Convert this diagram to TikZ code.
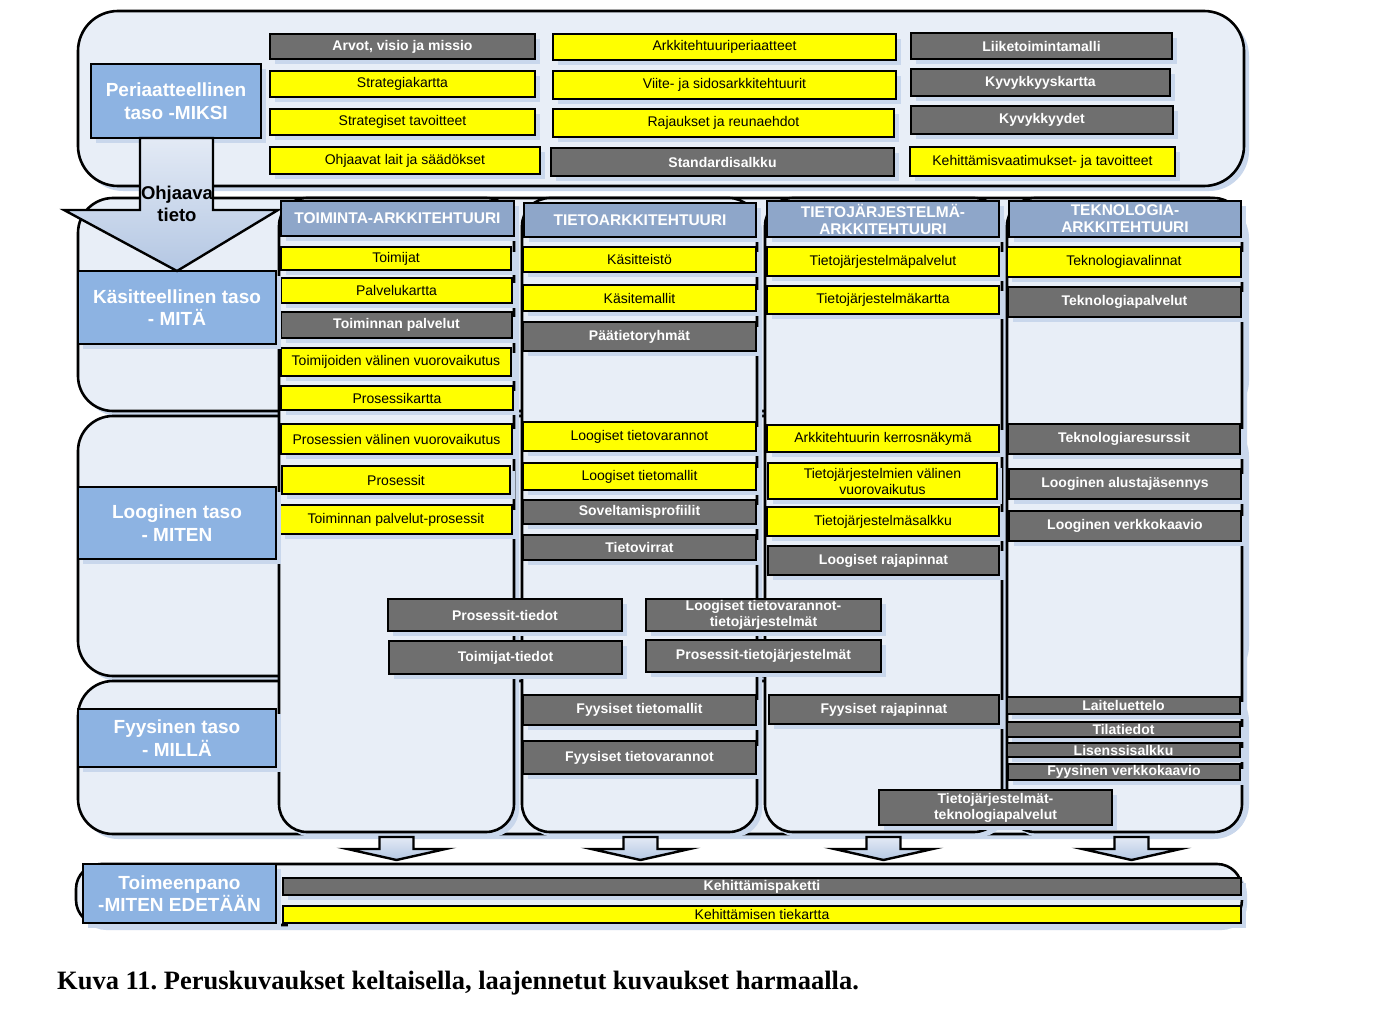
\documentclass[tikz,border=0pt]{standalone}
\usepackage{fontspec}
\setmainfont{Liberation Sans}
\newfontfamily\capfont{Liberation Serif}
\usetikzlibrary{shadows,calc}
\frenchspacing
\definecolor{contc}{HTML}{E8EEF7}
\definecolor{lvlc}{HTML}{8DB3E2}
\definecolor{hdrc}{HTML}{8EA6C9}
\definecolor{grayc}{HTML}{6F6F6F}
\definecolor{yelc}{HTML}{FFFF00}
\definecolor{shadc}{HTML}{C9D7EC}
\definecolor{arrtop}{HTML}{E3EAF5}
\definecolor{arrbot}{HTML}{B4C7E3}
\tikzset{
  basebox/.style={draw=black, line width=2.4pt, inner sep=0pt, outer sep=0pt, align=center,
    general shadow={fill=shadc, shadow xshift=5pt, shadow yshift=-5pt}},
  ybx/.style={basebox, fill=yelc, text=black, font=\fontsize{14}{16}\selectfont},
  gbx/.style={basebox, fill=grayc, text=white, font=\bfseries\fontsize{14}{16}\selectfont},
  hbx/.style={basebox, fill=hdrc, text=white, font=\bfseries\fontsize{15.5}{17}\selectfont},
  lbx/.style={basebox, fill=lvlc, text=white, font=\bfseries\fontsize{19}{22.5}\selectfont},
  cbx/.style={basebox, line width=2.6pt, fill=contc, rounded corners=#1},
  cbx/.default=30pt,
  bigarrow/.style={draw=black, line width=2.4pt, top color=arrtop, bottom color=arrbot},
  smallarrow/.style={draw=black, line width=2.4pt, top color=arrtop, bottom color=arrbot},
}
\newcommand\bx[7]{\node[#2, minimum width={(#5)-(#3)-2}, minimum height={(#6)-(#4)-2}] (#1) at ({((#3)+(#5))/2},{((#4)+(#6))/2}) {#7};}
\newcommand\darrow[2]{\draw[smallarrow] ($(#1.south)+(#2-17,5)$) -- ($(#1.south)+(#2-17,17)$) -- ($(#1.south)+(#2-49,17)$) -- ($(#1.south)+(#2,28)$) -- ($(#1.south)+(#2+49,17)$) -- ($(#1.south)+(#2+17,17)$) -- ($(#1.south)+(#2+17,5)$) -- cycle;}
\begin{document}
\begin{tikzpicture}[x=1pt,y=-1pt]
\useasboundingbox[fill=white] (0,0) rectangle (1374,1014);
% containers
\bx{top}{cbx=40pt}{77}{10}{1245}{187}{}
\bx{rowK}{cbx=35pt}{77}{197}{1245}{412}{}
\bx{rowL}{cbx=35pt}{77}{415}{1245}{677}{}
\bx{rowF}{cbx=35pt}{77}{680}{1245}{835}{}
\bx{bottom}{cbx=25pt}{75}{863}{1243}{926}{}
% columns
\bx{colA}{cbx=28pt}{278}{197}{515}{833}{}
\bx{colB}{cbx=28pt}{521}{197}{758}{833}{}
\bx{colC}{cbx=28pt}{764}{197}{1003}{833}{}
\bx{colD}{cbx=28pt}{1006}{197}{1243}{833}{}
% top level items
\bx{t1}{gbx}{269}{33}{536}{60}{Arvot, visio ja missio}
\bx{t2}{ybx}{269}{70}{536}{98}{Strategiakartta}
\bx{t3}{ybx}{269}{108}{536}{136}{Strategiset tavoitteet}
\bx{t4}{ybx}{269}{146}{541}{175}{Ohjaavat lait ja säädökset}
\bx{t5}{ybx}{552}{33}{897}{61}{Arkkitehtuuriperiaatteet}
\bx{t6}{ybx}{552}{70}{897}{100}{Viite- ja sidosarkkitehtuurit}
\bx{t7}{ybx}{552}{108}{895}{138}{Rajaukset ja reunaehdot}
\bx{t8}{gbx}{550}{147}{895}{177}{Standardisalkku}
\bx{t9}{gbx}{910}{32}{1173}{60}{Liiketoimintamalli}
\bx{t10}{gbx}{910}{68}{1171}{97}{Kyvykkyyskartta}
\bx{t11}{gbx}{910}{105}{1174}{135}{Kyvykkyydet}
\bx{t12}{ybx}{909}{146}{1176}{177}{Kehittämisvaatimukset- ja tavoitteet}
% headers
\bx{hA}{hbx}{280}{200}{515}{237}{TOIMINTA-ARKKITEHTUURI}
\bx{hB}{hbx}{523}{202}{757}{238}{TIETOARKKITEHTUURI}
\bx{hC}{hbx}{766}{200}{1000}{238}{TIETOJÄRJESTELMÄ-\\ARKKITEHTUURI}
\bx{hD}{hbx}{1008}{200}{1242}{238}{TEKNOLOGIA-\\ARKKITEHTUURI}
% column A
\bx{a1}{ybx}{280}{246}{512}{271}{Toimijat}
\bx{a2}{ybx}{280}{277}{513}{304}{Palvelukartta}
\bx{a3}{gbx}{280}{311}{513}{339}{Toiminnan palvelut}
\bx{a4}{ybx}{280}{347}{512}{377}{Toimijoiden välinen vuorovaikutus}
\bx{a5}{ybx}{280}{385}{514}{411}{Prosessikartta}
\bx{a6}{ybx}{280}{423}{513}{455}{Prosessien välinen vuorovaikutus}
\bx{a7}{ybx}{281}{465}{511}{495}{Prosessit}
\bx{a8}{ybx}{279}{504}{513}{535}{Toiminnan palvelut-prosessit}
% column B
\bx{b1}{ybx}{522}{246}{757}{273}{Käsitteistö}
\bx{b2}{ybx}{522}{284}{757}{312}{Käsitemallit}
\bx{b3}{gbx}{522}{321}{757}{352}{Päätietoryhmät}
\bx{b4}{ybx}{522}{421}{757}{452}{Loogiset tietovarannot}
\bx{b5}{ybx}{522}{462}{757}{491}{Loogiset tietomallit}
\bx{b6}{gbx}{522}{499}{757}{525}{Soveltamisprofiilit}
\bx{b7}{gbx}{522}{534}{757}{561}{Tietovirrat}
\bx{b8}{gbx}{522}{694}{757}{726}{Fyysiset tietomallit}
\bx{b9}{gbx}{522}{740}{757}{775}{Fyysiset tietovarannot}
% column C
\bx{c1}{ybx}{766}{246}{1000}{277}{Tietojärjestelmäpalvelut}
\bx{c2}{ybx}{766}{285}{1000}{315}{Tietojärjestelmäkartta}
\bx{c3}{ybx}{766}{424}{1000}{453}{Arkkitehtuurin kerrosnäkymä}
\bx{c4}{ybx}{767}{462}{998}{500}{Tietojärjestelmien välinen\\vuorovaikutus}
\bx{c5}{ybx}{766}{506}{1000}{537}{Tietojärjestelmäsalkku}
\bx{c6}{gbx}{767}{545}{1000}{576}{Loogiset rajapinnat}
\bx{c7}{gbx}{768}{694}{1000}{725}{Fyysiset rajapinnat}
% column D
\bx{d1}{ybx}{1006}{246}{1242}{278}{Teknologiavalinnat}
\bx{d2}{gbx}{1007}{286}{1242}{318}{Teknologiapalvelut}
\bx{d3}{gbx}{1007}{423}{1241}{455}{Teknologiaresurssit}
\bx{d4}{gbx}{1008}{468}{1242}{500}{Looginen alustajäsennys}
\bx{d5}{gbx}{1008}{510}{1242}{542}{Looginen verkkokaavio}
\bx{d6}{gbx}{1006}{696}{1241}{715}{Laiteluettelo}
\bx{d7}{gbx}{1006}{721}{1241}{738}{Tilatiedot}
\bx{d8}{gbx}{1006}{742}{1241}{758}{Lisenssisalkku}
\bx{d9}{gbx}{1007}{763}{1241}{781}{Fyysinen verkkokaavio}
% cross items
\bx{x1}{gbx}{387}{598}{623}{632}{Prosessit-tiedot}
\bx{x2}{gbx}{388}{640}{623}{675}{Toimijat-tiedot}
\bx{x3}{gbx}{645}{598}{882}{632}{Loogiset tietovarannot-\\tietojärjestelmät}
\bx{x4}{gbx}{645}{639}{882}{673}{Prosessit-tietojärjestelmät}
\bx{x5}{gbx}{878}{789}{1113}{826}{Tietojärjestelmät-\\teknologiapalvelut}
% bottom bars
\bx{k1}{gbx}{282}{877}{1242}{896}{Kehittämispaketti}
\bx{k2}{ybx}{282}{905}{1242}{924}{Kehittämisen tiekartta}
% level labels
\bx{peri}{lbx}{90}{63}{262}{139}{Periaatteellinen\\taso -MIKSI}
\bx{kas}{lbx}{77}{270}{277}{345}{Käsitteellinen taso\\- MITÄ}
% guiding arrow
\draw[bigarrow] ($(peri.south)+(-36,0)$) -- ($(peri.south)+(-36,72)$) -- ($(peri.south)+(-112,72)$) -- (kas.north) -- ($(peri.south)+(102,72)$) -- ($(peri.south)+(37,72)$) -- ($(peri.south)+(37,0)$) -- cycle;
\node[font=\bfseries\fontsize{18.5}{22.5}\selectfont, align=center, inner sep=0pt] (ohj) at (177,204) {Ohjaava\\tieto};
\bx{loo}{lbx}{77}{486}{277}{560}{Looginen taso\\- MITEN}
\bx{fyy}{lbx}{77}{708}{277}{768}{Fyysinen taso\\- MILLÄ}
\bx{toi}{lbx}{82}{863}{277}{924}{Toimeenpano\\-MITEN EDETÄÄN}
% down arrows
\darrow{colA}{0}
\darrow{colB}{1}
\darrow{colC}{0}
\darrow{colD}{7}
% caption
\node[anchor=base west, inner sep=0pt, font=\capfont\bfseries\fontsize{26.5}{30}\selectfont] (cap) at (57,989) {Kuva 11. Peruskuvaukset keltaisella, laajennetut kuvaukset harmaalla.};
\end{tikzpicture}
\end{document}
